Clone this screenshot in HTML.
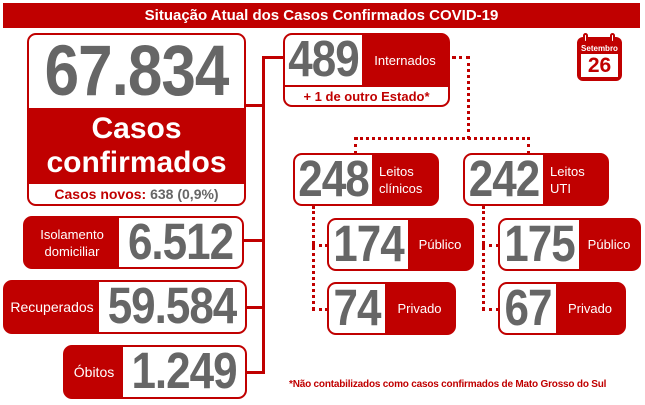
<!DOCTYPE html>
<html><head><meta charset="utf-8"><style>
*{margin:0;padding:0;box-sizing:border-box}
body{width:645px;height:405px;background:#fff;position:relative;overflow:hidden;font-family:"Liberation Sans",sans-serif}
.a{position:absolute}
.box{position:absolute;border:2px solid #c00000;border-radius:9px;overflow:hidden;background:#fff}
.red{background:#c00000;color:#fff}
.num{color:#666;font-weight:bold;text-align:center;letter-spacing:-1px}
.c{display:flex;align-items:center;justify-content:center;text-align:center}
.ln{position:absolute;background:#c00000}
.dv{position:absolute;border-left:3px dotted #c00000;width:0}
.dh{position:absolute;border-top:3px dotted #c00000;height:0}
.num span{display:inline-block;transform:scaleY(1.15)}
</style></head><body>
<div class="a red c" style="left:3px;top:3px;width:637px;height:25px;font-weight:bold;font-size:15px">Situação Atual dos Casos Confirmados COVID-19</div>

<div class="box" style="left:27px;top:33px;width:219px;height:173px">
 <div class="a num c" style="left:0;top:0;width:215px;height:73px;font-size:62px"><span>67.834</span></div>
 <div class="a red c" style="left:0;top:73px;width:215px;height:76px;font-size:30px;font-weight:bold;line-height:34px">Casos<br>confirmados</div>
 <div class="a c" style="left:0;top:149px;width:215px;height:20px;font-size:14px;font-weight:bold;color:#c00000">Casos novos:&nbsp;<span style="color:#666">638 (0,9%)</span></div>
</div>

<div class="ln" style="left:262px;top:56px;width:3px;height:318px"></div>
<div class="ln" style="left:245px;top:104px;width:18px;height:3px"></div>
<div class="ln" style="left:262px;top:56px;width:22px;height:3px"></div>
<div class="ln" style="left:243px;top:239px;width:20px;height:3px"></div>
<div class="ln" style="left:246px;top:306px;width:17px;height:3px"></div>
<div class="ln" style="left:246px;top:371px;width:17px;height:3px"></div>

<div class="box red" style="left:23px;top:216px;width:221px;height:53px">
 <div class="a c" style="left:0;top:0;width:94px;height:49px;font-size:13px;line-height:17px">Isolamento<br>domiciliar</div>
 <div class="a num c" style="left:94px;top:0;width:123px;height:49px;font-size:44px;background:#fff"><span>6.512</span></div>
</div>
<div class="box red" style="left:3px;top:280px;width:244px;height:54px">
 <div class="a c" style="left:0;top:0;width:94px;height:50px;font-size:14px">Recuperados</div>
 <div class="a num c" style="left:94px;top:0;width:146px;height:50px;font-size:44px;background:#fff"><span>59.584</span></div>
</div>
<div class="box red" style="left:63px;top:345px;width:184px;height:54px">
 <div class="a c" style="left:0;top:0;width:58px;height:50px;font-size:14px">Óbitos</div>
 <div class="a num c" style="left:58px;top:0;width:122px;height:50px;font-size:44px;background:#fff"><span>1.249</span></div>
</div>

<div class="box red" style="left:283px;top:33px;width:167px;height:74px">
 <div class="a num c" style="left:0;top:0;width:77px;height:50px;font-size:44px;background:#fff"><span>489</span></div>
 <div class="a c" style="left:77px;top:0;width:86px;height:50px;font-size:13px">Internados</div>
 <div class="a c" style="left:0;top:50px;width:163px;height:20px;background:#fff;color:#c00000;font-weight:bold;font-size:13px;border-top:2px solid #c00000">+ 1 de outro Estado*</div>
</div>

<div class="dh" style="left:452px;top:56px;width:18px"></div>
<div class="dv" style="left:467px;top:56px;height:83px"></div>
<div class="dh" style="left:355px;top:137px;width:175px"></div>
<div class="dv" style="left:354px;top:137px;height:17px"></div>
<div class="dv" style="left:527px;top:137px;height:17px"></div>

<div class="box red" style="left:293px;top:153px;width:146px;height:53px">
 <div class="a num c" style="left:0;top:0;width:77px;height:49px;font-size:44px;background:#fff"><span>248</span></div>
 <div class="a" style="left:84px;top:8px;font-size:13px;line-height:17px">Leitos<br>clínicos</div>
</div>
<div class="box red" style="left:463px;top:153px;width:146px;height:53px">
 <div class="a num c" style="left:0;top:0;width:78px;height:49px;font-size:44px;background:#fff"><span>242</span></div>
 <div class="a" style="left:85px;top:8px;font-size:13px;line-height:17px">Leitos<br>UTI</div>
</div>

<div class="dv" style="left:312px;top:206px;height:104px"></div>
<div class="dh" style="left:312px;top:244px;width:16px"></div>
<div class="dh" style="left:312px;top:308px;width:16px"></div>
<div class="dv" style="left:482px;top:206px;height:104px"></div>
<div class="dh" style="left:482px;top:244px;width:17px"></div>
<div class="dh" style="left:482px;top:308px;width:17px"></div>

<div class="box red" style="left:327px;top:218px;width:147px;height:53px">
 <div class="a num c" style="left:0;top:0;width:79px;height:49px;font-size:44px;background:#fff"><span>174</span></div>
 <div class="a c" style="left:79px;top:0;width:64px;height:49px;font-size:13px">Público</div>
</div>
<div class="box red" style="left:327px;top:282px;width:129px;height:53px">
 <div class="a num c" style="left:0;top:0;width:56px;height:49px;font-size:44px;background:#fff"><span>74</span></div>
 <div class="a c" style="left:56px;top:0;width:69px;height:49px;font-size:13px">Privado</div>
</div>
<div class="box red" style="left:498px;top:218px;width:143px;height:53px">
 <div class="a num c" style="left:0;top:0;width:79px;height:49px;font-size:44px;background:#fff"><span>175</span></div>
 <div class="a c" style="left:79px;top:0;width:60px;height:49px;font-size:13px">Público</div>
</div>
<div class="box red" style="left:498px;top:282px;width:128px;height:53px">
 <div class="a num c" style="left:0;top:0;width:56px;height:49px;font-size:44px;background:#fff"><span>67</span></div>
 <div class="a c" style="left:56px;top:0;width:68px;height:49px;font-size:13px">Privado</div>
</div>

<div class="a" style="left:289px;top:379px;font-size:10px;font-weight:bold;color:#c00000;letter-spacing:-0.2px">*Não contabilizados como casos confirmados de Mato Grosso do Sul</div>

<div class="a" style="left:577px;top:37px;width:45px;height:44px;background:#c00000;border-radius:6px"></div>
<div class="a" style="left:583px;top:33px;width:5px;height:10px;border:2px solid #c00000;border-radius:3px;background:#fff"></div>
<div class="a" style="left:610px;top:33px;width:5px;height:10px;border:2px solid #c00000;border-radius:3px;background:#fff"></div>
<div class="a c" style="left:577px;top:43px;width:45px;height:10px;color:#fff;font-size:8px;font-weight:bold">Setembro</div>
<div class="a c" style="left:581px;top:54px;width:37px;height:23px;background:#fff;color:#c00000;font-size:21px;font-weight:bold">26</div>
</body></html>
